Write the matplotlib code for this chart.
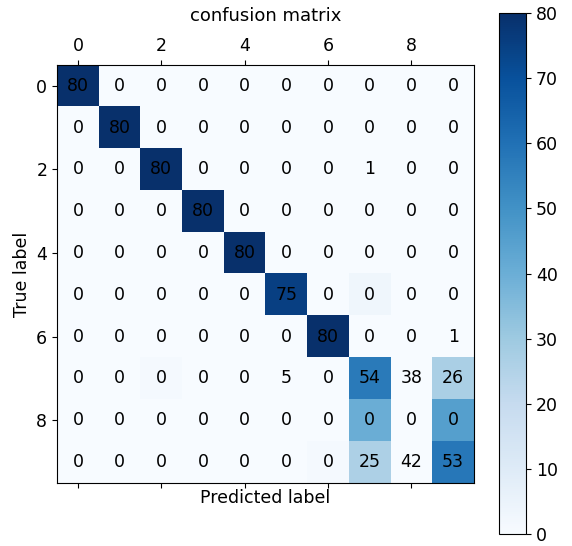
import matplotlib
matplotlib.use('Agg')
import matplotlib.pyplot as plt
import numpy as np

# numbers printed in each cell
cell_text = np.array([
    [80, 0, 0, 0, 0, 0, 0, 0, 0, 0],
    [0, 80, 0, 0, 0, 0, 0, 0, 0, 0],
    [0, 0, 80, 0, 0, 0, 0, 1, 0, 0],
    [0, 0, 0, 80, 0, 0, 0, 0, 0, 0],
    [0, 0, 0, 0, 80, 0, 0, 0, 0, 0],
    [0, 0, 0, 0, 0, 75, 0, 0, 0, 0],
    [0, 0, 0, 0, 0, 0, 80, 0, 0, 1],
    [0, 0, 0, 0, 0, 5, 0, 54, 38, 26],
    [0, 0, 0, 0, 0, 0, 0, 0, 0, 0],
    [0, 0, 0, 0, 0, 0, 0, 25, 42, 53],
])

# shade of each cell (does not always match the printed number)
cell_shade = np.array([
    [80, 0, 0, 0, 0, 0, 0, 0, 0, 0],
    [0, 80, 0, 0, 0, 0, 0, 0, 0, 0],
    [0, 0, 80, 0, 0, 0, 0, 0, 0, 0],
    [0, 0, 0, 80, 0, 0, 0, 0, 0, 0],
    [0, 0, 0, 0, 80, 0, 0, 0, 0, 0],
    [0, 0, 0, 0, 0, 75, 0, 3, 0, 0],
    [0, 0, 0, 0, 0, 0, 80, 0, 0, 0],
    [0, 0, 1, 0, 0, 0, 0, 57, 0, 27],
    [0, 0, 0, 0, 0, 0, 0, 40, 0, 45],
    [0, 0, 0, 0, 0, 0, 1, 26, 0, 58],
])

fs = 12.5

fig = plt.figure(figsize=(5.72, 5.46), dpi=100)
ax = fig.add_axes([0.0997, 0.1154, 0.729, 0.7656])
cax = fig.add_axes([0.8724, 0.022, 0.0472, 0.954])

im = ax.matshow(cell_shade, cmap=plt.cm.Blues, vmin=0, vmax=80, aspect='auto')
for i in range(cell_text.shape[0]):
    for j in range(cell_text.shape[1]):
        ax.text(j, i, str(cell_text[i, j]), ha='center', va='center',
                color='black', fontsize=fs)

ax.set_xticks(range(0, 10, 2))
ax.set_yticks(range(0, 10, 2))
ax.tick_params(labelsize=fs)
ax.set_title('confusion matrix', fontsize=fs + 0.5, pad=12)
ax.set_ylabel('True label', fontsize=fs)
ax.set_xlabel('Predicted label', fontsize=fs, labelpad=1)

cb = fig.colorbar(im, cax=cax)
cb.ax.tick_params(labelsize=fs)

fig.savefig('out.png', dpi=100)
